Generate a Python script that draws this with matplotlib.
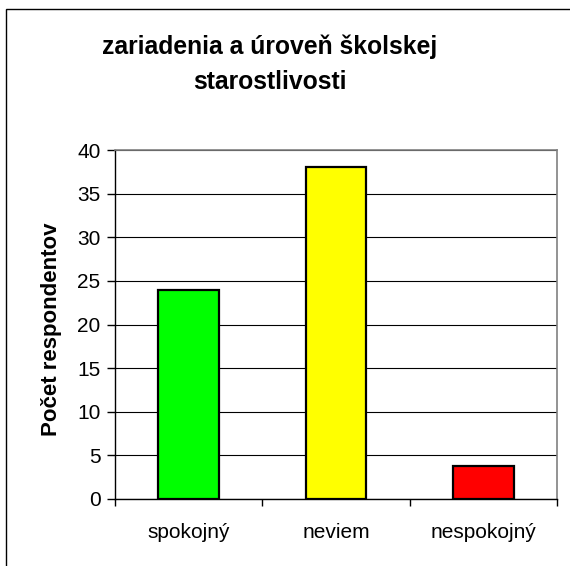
import matplotlib
matplotlib.use("Agg")
import matplotlib.pyplot as plt
from matplotlib.patches import Rectangle

categories = ["spokojný", "neviem", "nespokojný"]
values = [24, 38, 3.8]
colors = ["#00FF00", "#FFFF00", "#FF0000"]
yticks = [0, 5, 10, 15, 20, 25, 30, 35, 40]
title = "zariadenia a úroveň školskej\nstarostlivosti"
ylabel = "Počet respondentov"

plt.rcParams['font.family'] = ['Liberation Sans', 'DejaVu Sans']

W, H = 570, 566
fig = plt.figure(figsize=(W/100, H/100), dpi=100)

# outer chart border (right and bottom edges lie outside the picture)
fig.patches.append(Rectangle((6/W, -0.05), 1.1, 1.05 - 9/H, transform=fig.transFigure,
                             fill=False, edgecolor="black", linewidth=1.0))

l, r, t, b = 114.5/W, 557.3/W, 1 - 150/H, 1 - 499/H
ax = fig.add_axes([l, b, r - l, t - b])

x = list(range(len(categories)))
ax.bar(x, values, width=0.41, color=colors, edgecolor="black", linewidth=1.6, zorder=3)
ax.set_xlim(-0.5, len(categories) - 0.5)
ax.set_ylim(0, 40)
ax.set_yticks(yticks)
ax.set_yticklabels([str(v) for v in yticks], fontsize=15)
ax.yaxis.grid(True, color="black", linewidth=0.8, zorder=1)
ax.set_axisbelow(True)

ax.set_xticks([-0.5, 0.5, 1.5, 2.5])
ax.set_xticklabels([])
ax.set_xticks(x, minor=True)
ax.set_xticklabels(categories, minor=True, fontsize=15)
ax.tick_params(axis='x', which='minor', length=0, pad=17)
ax.tick_params(axis='x', which='major', length=5, width=1, direction='out', color='black')
ax.tick_params(axis='y', length=6, width=1, direction='out', pad=4)

for s in ["top", "right"]:
    ax.spines[s].set_color("#808080")
    ax.spines[s].set_linewidth(1.2)
for s in ["left", "bottom"]:
    ax.spines[s].set_color("black")
    ax.spines[s].set_linewidth(1.0)

fig.text(51.5/W, 1 - 329/H, ylabel, rotation=90, fontsize=16, fontweight="bold",
         ha="center", va="center")
fig.text(270/W, 1 - 64/H, title, fontsize=17.8, fontweight="bold",
         ha="center", va="center", linespacing=1.57)

fig.savefig("out.png", dpi=100)
